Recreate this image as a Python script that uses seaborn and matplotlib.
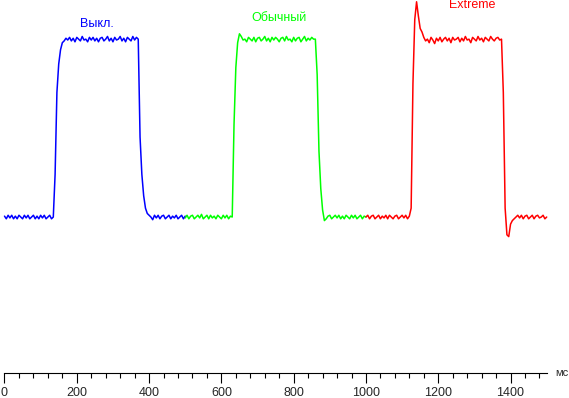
import numpy as np
import pandas as pd
import matplotlib
matplotlib.use('Agg')
import matplotlib.pyplot as plt
import seaborn as sns
from matplotlib.ticker import MultipleLocator

# sampling step of the traces, ms
STEP = 5

# "Выкл." trace, starts at 0 ms
off_start = 0
off_base1 = [0.5, -1, 1, -0.5, 1, -1, 0.5, -1, 1, 0, -1, 1, -0.5, 1, -1, 0, 1, -1, 0.5, -1,
             1, -0.5, 1, -1, 0, 1, -1, 0]
off_rise = [24, 70, 86, 94, 98]
off_top = [99, 100.5, 99.5, 101, 99, 100.5, 98.5, 101, 100, 99, 101.5, 99.5, 100, 98.5, 101,
           99.5, 101, 99, 100.5, 98.5, 100.5, 101, 99, 100, 101.5, 99, 100.5, 98.5, 101, 99.5,
           100, 101.5, 99, 100.5, 98.5, 101, 100, 99, 101.5, 99.5, 101]
off_fall = [100, 45, 24, 12, 5, 2, 1]
off_base2 = [0, -1.5, 1, -0.5, 1, -1, 0.5, 1, -1, 0, 1, -1, 0.5, -0.5, 1, -1, 0, 1, -1, 0.5]

# "Обычный" trace, starts at 500 ms
normal_start = 500
normal_base1 = [-0.5, 1, -1, 0.5, 1, -1, 0, 1, -0.5, 1.5, -1, 0, 1, -1, 1, -0.5, 0.5, -1, 1, 0,
                -1, 1, -0.5, 1, -1, 0.5, 0]
normal_rise = [52, 84, 98, 103]
normal_top = [101.5, 99.5, 100, 98.5, 101, 100, 99, 101, 98.5, 100.5, 101, 99, 100, 101.5, 99,
              100.5, 98.5, 101, 99.5, 101, 100, 98.5, 100.5, 101, 99, 101.5, 99.5, 100, 98.5, 101,
              99, 100.5, 101, 98.5, 100, 101.5, 99, 100.5, 99.5, 101, 100]
normal_fall = [100, 80, 37, 16, 4, -2]
normal_base2 = [-1, 0.5, 1, -1, 0, 1, -0.5, 1, -1, 0.5, -1, 1, 0, -1, 1, -0.5, 1, -1, 0, 1,
                -1, 0.5, 0]

# "Extreme" trace, starts at 1000 ms
extreme_start = 1000
extreme_base1 = [0, 1, -1, 0.5, 1, -1, 0, 1, -1, 0.5, -0.5, 1, -1, 1, 0, -1, 0.5, 1, -1, 0,
                 1, -0.5, 1, -1, 0.5]
extreme_rise = [5, 75, 111, 121, 113, 106, 104, 101]
extreme_top = [99, 100, 98, 101, 99.5, 97.5, 100.5, 99, 101, 98.5, 100, 101, 99, 100.5, 98, 101,
               99.5, 100, 101, 98.5, 100.5, 99, 101.5, 99.5, 100, 98, 101, 100, 99, 101.5, 99.5,
               100.5, 98.5, 101, 100, 99, 101.5, 100, 99, 100.5, 101, 99.5]
extreme_fall = [100, 70, 5, -10, -11, -4, -2, -1]
extreme_base2 = [0, 1, -0.5, 1, -1, 0.5, 1, -1, 0, 1, -1, 0.5, 1, -0.5, 0, 1, -1, 0]

mode_names = ['Выкл.', 'Обычный', 'Extreme']
mode_colors = ['#0000ff', '#00ff00', '#ff0000']
label_x = [256, 759, 1295]
label_y = [108.5, 112, 119]

x_ticks = [0, 200, 400, 600, 800, 1000, 1200, 1400]


def build_frame():
    parts = [
        (mode_names[0], off_start, off_base1 + off_rise + off_top + off_fall + off_base2),
        (mode_names[1], normal_start, normal_base1 + normal_rise + normal_top + normal_fall + normal_base2),
        (mode_names[2], extreme_start, extreme_base1 + extreme_rise + extreme_top + extreme_fall + extreme_base2),
    ]
    frames = []
    for name, start, vals in parts:
        frames.append(pd.DataFrame({'ms': start + STEP * np.arange(len(vals)),
                                    'level': vals, 'mode': name}))
    return pd.concat(frames, ignore_index=True)


def main():
    sns.set_style('white')
    plt.rcParams['font.family'] = ['Liberation Sans', 'DejaVu Sans']

    df = build_frame()

    fig = plt.figure(figsize=(5.69, 3.98), dpi=100)
    ax = fig.add_axes([0.0079, 0.0636, 0.9529, 0.9364])

    sns.lineplot(data=df, x='ms', y='level', hue='mode', hue_order=mode_names,
                 palette=mode_colors, estimator=None, sort=False, legend=False,
                 linewidth=1.1, ax=ax, clip_on=False)

    for name, color, lx, ly in zip(mode_names, mode_colors, label_x, label_y):
        ax.text(lx, ly, name, color=color, fontsize=9, ha='center', va='center')

    ax.set_xlim(0, 1500)
    ax.set_ylim(-87.5, 122)
    ax.set_xticks(x_ticks)
    ax.xaxis.set_minor_locator(MultipleLocator(40))
    ax.set_yticks([])
    ax.set_xlabel('')
    ax.set_ylabel('')

    for side in ['left', 'right', 'top']:
        ax.spines[side].set_visible(False)
    ax.spines['bottom'].set_color('black')
    ax.spines['bottom'].set_linewidth(0.8)
    ax.tick_params(axis='x', which='major', direction='out', length=7, width=0.8,
                   color='black', labelsize=9, pad=3, bottom=True)
    ax.tick_params(axis='x', which='minor', direction='out', length=3.5, width=0.8,
                   color='black', bottom=True)

    ax.text(1.015, 0, 'мс', transform=ax.transAxes, ha='left', va='center', fontsize=8)

    fig.savefig('out.png', dpi=100)
    plt.close(fig)


if __name__ == "__main__":
    main()
